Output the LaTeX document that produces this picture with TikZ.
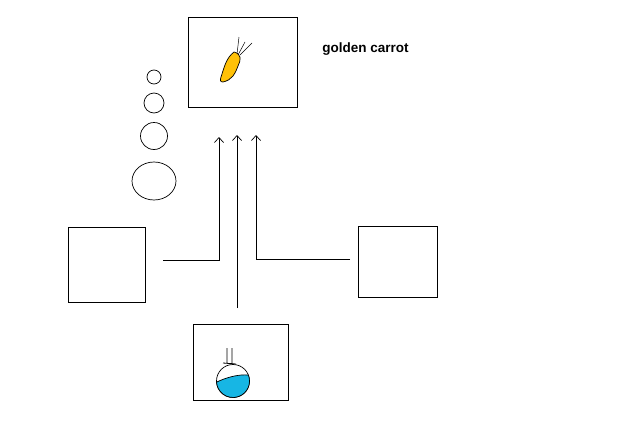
\documentclass[tikz,border=0pt]{standalone}
\usepackage{fontspec}
\setmainfont{Liberation Sans}
\usetikzlibrary{arrows.meta}
\begin{document}
\begin{tikzpicture}[x=1pt,y=-1pt,line width=0.7pt,
  box/.style={draw,inner sep=0pt},
  conn/.style={draw,-{Straight Barb[length=5pt,width=9pt]}}]
\useasboundingbox[fill=white] (0,0) rectangle (640,442);
\node[box,minimum width=109pt,minimum height=90pt] (top) at (242.5,62) {};
\node[box,minimum width=77pt,minimum height=75pt] (left) at (106.5,264.5) {};
\node[box,minimum width=79pt,minimum height=71pt] (right) at (397.5,261.5) {};
\node[box,minimum width=95pt,minimum height=76pt] (bot) at (240.5,362) {};
\node[font=\bfseries\fontsize{13.5}{15}\selectfont] (lbl) at (365.5,49) {golden carrot};
\coordinate (l0) at (163,260); \coordinate (l1) at (219,260); \coordinate (l2) at (219,137);
\coordinate (m0) at (237,308); \coordinate (m1) at (237,135);
\coordinate (r0) at (350,259); \coordinate (r1) at (256,259); \coordinate (r2) at (256,135);
\draw[conn] (l0) -- (l1) -- (l2);
\draw[conn] (m0) -- (m1);
\draw[conn] (r0) -- (r1) -- (r2);
\draw (154,77) circle (7);
\draw (154,103) circle (10);
\draw (154,136) circle (13.5);
\draw (154,181) ellipse (22 and 19);
% carrot
\draw[fill={rgb,255:red,255;green,193;blue,7}] (234,52) .. controls (242,54) and (241,60) .. (238,66) .. controls (235,74) and (232,80) .. (223,82) .. controls (220,82) and (220,80) .. (221,77) .. controls (224,68) and (226,58) .. (234,52) -- cycle;
\draw[line width=0.5pt] (237,54) -- (239,37) (238,55) -- (245,42) (240,55) -- (252,43);
% potion
\draw (233,381) circle (16.5);
\draw[fill={rgb,255:red,23;green,182;blue,228}] ([shift={(-21:16.5)}]233,381) arc (-21:176:16.5) .. controls (227,377) and (240,374) .. ([shift={(-21:16.5)}]233,381) -- cycle;
\draw[line width=0.8pt] (227,348) -- (227,363) (232,348) -- (232,364) (223,363) -- (236,364);
\end{tikzpicture}
\end{document}
